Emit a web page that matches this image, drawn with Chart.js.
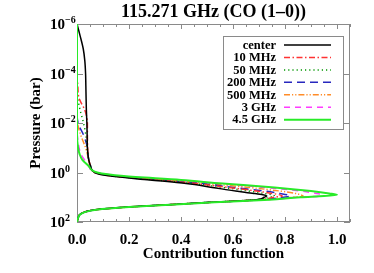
<!DOCTYPE html>
<html lang="en">
<head>
    <meta charset="UTF-8">
    <title>115.271 GHz (CO (1-0))</title>
    <script src="https://cdn.jsdelivr.net/npm/chart.js"></script>
    <style>
        html, body { margin: 0; padding: 0; background: #fff; }
        #wrap { width: 374px; height: 273px; }
    </style>
</head>
<body>
    <div id="wrap"><canvas id="cfChart" width="374" height="273"></canvas></div>
    <script>
        // pressure levels (bar), shared by every series
        const pressure = [1e-6, 3e-6, 1e-5, 3e-5, 1e-4, 3e-4, 1e-3, 3e-3, 1e-2, 3e-2, 0.1, 0.18, 0.3, 0.55, 1,
            1.4, 2, 2.8, 4, 5.6, 7, 8, 9, 10, 12.5, 16, 20, 25, 32, 40, 50, 70, 100];

        // contribution function for each frequency offset
        const center  = [0, 0.012, 0.024, 0.03, 0.033, 0.034, 0.035, 0.036, 0.038, 0.039, 0.04, 0.042, 0.045, 0.052, 0.068,
            0.13, 0.28, 0.42, 0.52, 0.61, 0.68, 0.715, 0.73, 0.72, 0.69, 0.51, 0.35, 0.19, 0.07, 0.028, 0.011, 0.004, 0];
        const mhz10   = [0, 0, 0, 0, 0, 0.003, 0.008, 0.03, 0.04, 0.04, 0.041, 0.042, 0.045, 0.052, 0.069,
            0.14, 0.31, 0.46, 0.58, 0.69, 0.75, 0.78, 0.79, 0.76, 0.7, 0.52, 0.35, 0.19, 0.07, 0.028, 0.011, 0.004, 0];
        const mhz50   = [0, 0, 0, 0, 0, 0, 0.003, 0.012, 0.025, 0.034, 0.039, 0.042, 0.045, 0.052, 0.069,
            0.14, 0.3, 0.45, 0.56, 0.66, 0.72, 0.75, 0.76, 0.74, 0.69, 0.51, 0.35, 0.19, 0.07, 0.028, 0.011, 0.004, 0];
        const mhz200  = [0, 0, 0, 0, 0, 0, 0, 0, 0.004, 0.025, 0.04, 0.042, 0.045, 0.052, 0.07,
            0.15, 0.32, 0.48, 0.6, 0.72, 0.78, 0.81, 0.82, 0.79, 0.71, 0.52, 0.35, 0.19, 0.07, 0.028, 0.011, 0.004, 0];
        const mhz500  = [0, 0, 0, 0, 0, 0, 0, 0, 0.002, 0.014, 0.033, 0.04, 0.044, 0.05, 0.07,
            0.16, 0.34, 0.5, 0.66, 0.78, 0.84, 0.86, 0.87, 0.83, 0.72, 0.52, 0.36, 0.2, 0.072, 0.029, 0.011, 0.004, 0];
        const ghz3    = [0, 0, 0, 0, 0, 0, 0, 0, 0, 0.001, 0.008, 0.015, 0.028, 0.045, 0.073,
            0.17, 0.37, 0.54, 0.72, 0.86, 0.92, 0.94, 0.93, 0.85, 0.73, 0.53, 0.36, 0.2, 0.074, 0.03, 0.012, 0.004, 0];
        const ghz45   = [0, 0, 0, 0, 0, 0, 0, 0, 0, 0, 0.004, 0.01, 0.02, 0.045, 0.078,
            0.18, 0.4, 0.56, 0.76, 0.9, 0.97, 1.0, 0.95, 0.86, 0.74, 0.53, 0.36, 0.2, 0.075, 0.03, 0.012, 0.004, 0];

        const seriesNames = ['center', '10 MHz', '50 MHz', '200 MHz', '500 MHz', '3 GHz', '4.5 GHz'];
        const seriesData = [center, mhz10, mhz50, mhz200, mhz500, ghz3, ghz45];

        // y tick decades, x tick labels
        const yDecades = [-6, -4, -2, 0, 2];
        const xTickLabels = ['0.0', '0.2', '0.4', '0.6', '0.8', '1.0'];

        const styles = [
            { color: '#000000', dash: [], width: 1.5, order: 1 },
            { color: 'rgb(255,50,50)', dash: [6, 2.5, 1.5, 2.5], width: 1.5, order: 2 },
            { color: 'rgb(0,150,0)', dash: [1.2, 3], width: 1.5, order: 3 },
            { color: 'rgb(40,40,190)', dash: [8, 5], width: 1.5, order: 4 },
            { color: 'rgb(255,140,40)', dash: [6, 2, 1.2, 2, 1.2, 2], width: 1.5, order: 5 },
            { color: 'rgb(255,60,255)', dash: [6, 5], width: 1.5, order: 6 },
            { color: 'rgb(40,235,40)', dash: [], width: 2, order: 0 }
        ];

        const serif = '"Liberation Serif", "Times New Roman", serif';
        const axisGray = '#8a8a8a';

        // frame, inward ticks, labels, title and legend
        const decorations = {
            id: 'decorations',
            beforeDatasetsDraw(chart) {
                const { ctx, chartArea: a, scales: { x, y } } = chart;
                ctx.save();
                ctx.strokeStyle = axisGray;
                ctx.lineWidth = 1;
                ctx.strokeRect(a.left + 0.5, a.top + 0.5, a.right - a.left - 1, a.bottom - a.top - 1);
                ctx.beginPath();
                for (let i = 0; i <= 21; i++) {
                    const v = i * 0.05;
                    const px = Math.round(x.getPixelForValue(v)) + 0.5;
                    const len = i % 4 === 0 ? 5 : 3;
                    ctx.moveTo(px, a.bottom); ctx.lineTo(px, a.bottom - len);
                    ctx.moveTo(px, a.top); ctx.lineTo(px, a.top + len);
                }
                yDecades.forEach(d => {
                    const py = Math.round(y.getPixelForValue(Math.pow(10, d))) + 0.5;
                    ctx.moveTo(a.left, py); ctx.lineTo(a.left + 6, py);
                    ctx.moveTo(a.right, py); ctx.lineTo(a.right - 6, py);
                });
                ctx.stroke();
                ctx.restore();
            },
            afterDraw(chart) {
                const { ctx, chartArea: a, scales: { y } } = chart;
                ctx.save();
                ctx.fillStyle = '#000';

                // y tick labels 10^n
                yDecades.forEach(d => {
                    const py = y.getPixelForValue(Math.pow(10, d));
                    ctx.font = 'bold 15px ' + serif;
                    ctx.textAlign = 'right';
                    ctx.textBaseline = 'alphabetic';
                    ctx.fillText('10', 65, py + 5);
                    ctx.font = 'bold 10px ' + serif;
                    ctx.textAlign = 'left';
                    ctx.fillText(d < 0 ? '\u2212' + (-d) : String(d), 65, py - 1);
                });

                // title
                const cx = (a.left + a.right) / 2;
                ctx.font = 'bold 18px ' + serif;
                ctx.textAlign = 'center';
                ctx.fillText('115.271 GHz (CO (1\u20130))', cx, 17);

                // axis titles
                ctx.font = 'bold 15px ' + serif;
                ctx.fillText('Contribution function', cx, 258);
                ctx.save();
                ctx.translate(40, (a.top + a.bottom) / 2);
                ctx.rotate(-Math.PI / 2);
                ctx.fillText('Pressure (bar)', 0, 0);
                ctx.restore();

                // legend
                const bx = 223, by = 36, bw = 120, bh = 93;
                ctx.fillStyle = '#fff';
                ctx.fillRect(bx, by, bw, bh);
                ctx.strokeStyle = axisGray;
                ctx.lineWidth = 1;
                ctx.strokeRect(bx + 0.5, by + 0.5, bw, bh);
                ctx.font = 'bold 12.5px ' + serif;
                ctx.textAlign = 'right';
                ctx.textBaseline = 'middle';
                chart.data.datasets.forEach((ds, i) => {
                    const ry = 45 + i * 12.45;
                    ctx.fillStyle = '#000';
                    ctx.fillText(ds.label, 276, ry + 0.5);
                    ctx.strokeStyle = ds.borderColor;
                    ctx.lineWidth = ds.borderWidth;
                    ctx.setLineDash(ds.borderDash);
                    ctx.beginPath();
                    ctx.moveTo(284, ry);
                    ctx.lineTo(331, ry);
                    ctx.stroke();
                });
                ctx.setLineDash([]);
                ctx.restore();
            }
        };

        const datasets = seriesNames.map((name, i) => ({
            label: name,
            data: pressure.map((p, k) => ({ x: seriesData[i][k], y: p })),
            borderColor: styles[i].color,
            borderDash: styles[i].dash,
            borderWidth: styles[i].width,
            order: styles[i].order,
            pointRadius: 0,
            fill: false,
            cubicInterpolationMode: 'monotone'
        }));

        new Chart(document.getElementById('cfChart'), {
            type: 'line',
            data: { datasets: datasets },
            options: {
                responsive: false,
                animation: false,
                indexAxis: 'y',
                layout: { padding: { left: 0, right: 24, top: 24, bottom: 0 } },
                plugins: {
                    legend: { display: false },
                    tooltip: { enabled: false },
                    title: { display: false }
                },
                scales: {
                    x: {
                        type: 'linear',
                        position: 'bottom',
                        min: 0,
                        max: 1.05,
                        grid: { display: false },
                        border: { display: false },
                        afterBuildTicks: s => {
                            s.ticks = xTickLabels.map(t => ({ value: parseFloat(t) }));
                        },
                        afterFit: s => { s.height = 51; },
                        ticks: {
                            autoSkip: false,
                            maxRotation: 0,
                            padding: 1,
                            color: '#000',
                            font: { family: serif, size: 15, weight: 'bold' },
                            callback: v => v.toFixed(1)
                        }
                    },
                    y: {
                        type: 'logarithmic',
                        position: 'left',
                        reverse: true,
                        min: 1e-6,
                        max: 100,
                        grid: { display: false },
                        border: { display: false },
                        afterFit: s => { s.width = 77; },
                        ticks: { display: false }
                    }
                }
            },
            plugins: [decorations]
        });
    </script>
</body>
</html>
